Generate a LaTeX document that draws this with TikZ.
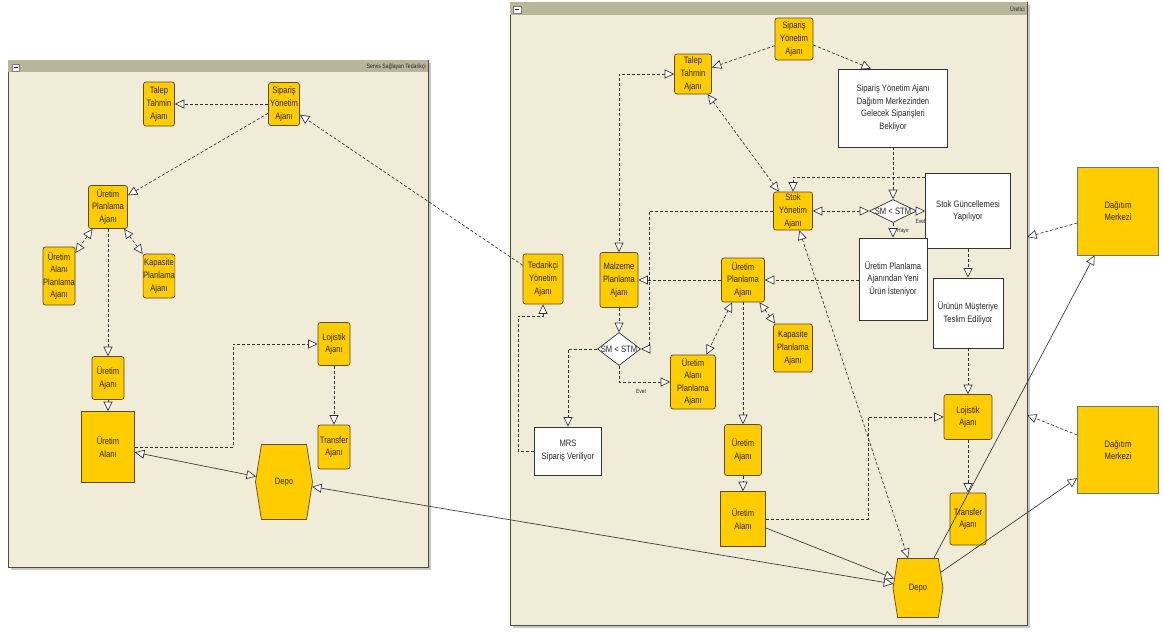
\documentclass[tikz,border=0pt]{standalone}
\usepackage{fontspec}
\setmainfont{Liberation Sans}[FakeStretch=0.82]
\usetikzlibrary{arrows.meta,shapes.geometric,shapes.symbols,calc}

\definecolor{agentfill}{HTML}{FFCC00}
\definecolor{agentline}{HTML}{5E4B1C}
\definecolor{agenttext}{HTML}{2E2508}
\definecolor{panelfill}{HTML}{F0ECD8}
\definecolor{panelbar}{HTML}{B8B59B}
\definecolor{panelline}{HTML}{4A4A4A}
\definecolor{wireline}{HTML}{333333}

\tikzset{
  txt/.style={font=\fontsize{9.3}{12.6}\selectfont},
  agent/.style={txt, draw=agentline, fill=agentfill, rounded corners=2.5pt,
    line width=0.7pt, align=center, text=agenttext, inner sep=0pt},
  area/.style={agent, rounded corners=0pt},
  depot/.style={agent, rounded corners=0pt, shape=signal,
    signal to=west and east, signal pointer angle=162},
  note/.style={txt, draw=wireline, fill=white, line width=0.7pt, align=center,
    text=black!85, inner sep=0pt},
  decision/.style={draw=wireline, fill=white, shape=diamond, inner sep=0pt,
    line width=0.7pt},
  cond/.style={font=\fontsize{9.3}{10}\selectfont, text=black!85},
  lbl/.style={font=\fontsize{6}{6}\selectfont, text=black!85, inner sep=0pt},
  ptitle/.style={font=\fontsize{6.3}{6.5}\selectfont, text=black!85, inner sep=0pt, anchor=east},
  msg/.style={draw=wireline, line width=0.65pt, dash pattern=on 3pt off 2pt},
  flow/.style={draw=wireline, line width=0.65pt},
  minus/.style={draw=gray, fill=white, minimum size=7.5pt, inner sep=0pt,
    path picture={\draw[black, line width=1.3pt]
      ([xshift=-2.2pt]path picture bounding box.center) --
      ([xshift=2.2pt]path picture bounding box.center);}},
}

\begin{document}
\begin{tikzpicture}[x=1pt, y=-1pt,
  >={Triangle[fill=white, length=9.5pt, width=9pt]}]
\useasboundingbox (0,0) rectangle (1163,632);
\fill[white] (0,0) rectangle (1163,632);

% ---------- boundary: Servis Saglayan Tedarikci ----------
\fill[black!22] (10.5,62.5) rectangle (430.5,569.5);
\draw[panelline, fill=panelfill, line width=0.8pt] (8,60) rectangle (428,567);
\fill[panelbar] (8.4,60.4) rectangle (427.6,72);
\node[minus] (lbtn) at (15.8,67.5) {};
\node[ptitle] (ltitle) at (426,66.5) {Servis Sağlayan Tedarikçi};

% ---------- boundary: Uretici ----------
\fill[black!22] (512.5,4.5) rectangle (1029.5,627.5);
\draw[panelline, fill=panelfill, line width=0.8pt] (510,2) rectangle (1027,625);
\fill[panelbar] (510.4,2.4) rectangle (1026.6,15);
\node[minus] (rbtn) at (517,9.5) {};
\node[ptitle] (rtitle) at (1025,9) {Üretici};

% ---------- supplier agents ----------
\node[agent, minimum width=31pt, minimum height=44pt] (lTalep) at (159,104) {Talep\\Tahmin\\Ajanı};
\node[agent, minimum width=31pt, minimum height=43pt] (lSip) at (284,104) {Sipariş\\Yönetim\\Ajanı};
\node[agent, minimum width=39pt, minimum height=43pt] (lUPA) at (108,207) {Üretim\\Planlama\\Ajanı};
\node[agent, minimum width=32pt, minimum height=58pt] (lUAPA) at (59,276) {Üretim\\Alanı\\Planlama\\Ajanı};
\node[agent, minimum width=31pt, minimum height=44pt] (lKap) at (159,276) {Kapasite\\Planlama\\Ajanı};
\node[agent, minimum width=32pt, minimum height=43pt] (lUA) at (108,378) {Üretim\\Ajanı};
\node[area, minimum width=53pt, minimum height=71pt] (lAlan) at (108,447) {Üretim\\Alanı};
\node[agent, minimum width=32pt, minimum height=43pt] (lLoj) at (334,344) {Lojistik\\Ajanı};
\node[agent, minimum width=32pt, minimum height=44pt] (lTr) at (334,447) {Transfer\\Ajanı};
\node[depot, minimum width=57pt, minimum height=75pt] (lDepo) at (284,482) {Depo};

% ---------- producer agents ----------
\node[agent, minimum width=38pt, minimum height=42pt] (rSip) at (794,39) {Sipariş\\Yönetim\\Ajanı};
\node[agent, minimum width=37pt, minimum height=40pt] (rTalep) at (693,74) {Talep\\Tahmin\\Ajanı};
\node[agent, minimum width=39pt, minimum height=38pt] (rStok) at (793,211) {Stok\\Yönetim\\Ajanı};
\node[agent, minimum width=40pt, minimum height=50pt] (rTed) at (543,279) {Tedarikçi\\Yönetim\\Ajanı};
\node[agent, minimum width=38pt, minimum height=55pt] (rMalz) at (619,280) {Malzeme\\Planlama\\Ajanı};
\node[agent, minimum width=43pt, minimum height=44pt] (rUPA) at (743,280) {Üretim\\Planlama\\Ajanı};
\node[agent, minimum width=45pt, minimum height=54pt] (rUAPA) at (693,382) {Üretim\\Alanı\\Planlama\\Ajanı};
\node[agent, minimum width=39pt, minimum height=48pt] (rKap) at (793,348) {Kapasite\\Planlama\\Ajanı};
\node[agent, minimum width=37pt, minimum height=51pt] (rUA) at (743,450) {Üretim\\Ajanı};
\node[area, minimum width=45pt, minimum height=55pt] (rAlan) at (743,519) {Üretim\\Alanı};
\node[agent, minimum width=48pt, minimum height=45pt] (rLoj) at (968,417) {Lojistik\\Ajanı};
\node[agent, minimum width=36pt, minimum height=52pt] (rTr) at (968,519) {Transfer\\Ajanı};
\node[depot, minimum width=50pt, minimum height=59pt] (rDepo) at (918,588) {Depo};

% ---------- decisions and activity notes ----------
\node[decision, minimum width=47pt, minimum height=23pt,
      label={[cond]center:SM < STM}] (rD1) at (893,211) {};
\node[decision, minimum width=43pt, minimum height=33pt,
      label={[cond]center:SM < STM}] (rD2) at (619,349) {};
\node[lbl, anchor=west] (evet1) at (915.5,221) {Evet};
\node[lbl, anchor=west] (hayir) at (897,231) {Hayır};
\node[lbl] (evet2) at (641,391) {Evet};

\node[note, minimum width=109pt, minimum height=78pt] (wBek) at (893,108)
  {Sipariş Yönetim Ajanı\\Dağıtım Merkezinden\\Gelecek Siparişleri\\Bekliyor};
\node[note, minimum width=85pt, minimum height=75pt] (wStokG) at (968,211)
  {Stok Güncellemesi\\Yapılıyor};
\node[note, minimum width=68pt, minimum height=82pt] (wYeni) at (893,279)
  {Üretim Planlama\\Ajanından Yeni\\Ürün İsteniyor};
\node[note, minimum width=70pt, minimum height=70pt] (wTeslim) at (968,313)
  {Ürünün Müşteriye\\Teslim Ediliyor};
\node[note, minimum width=67pt, minimum height=48pt] (wMRS) at (568,451)
  {MRS\\Sipariş Veriliyor};

% ---------- distribution centres ----------
\node[area, draw=black!55, minimum width=81pt, minimum height=88pt] (dm1) at (1118,211) {Dağıtım\\Merkezi};
\node[area, draw=black!55, minimum width=81pt, minimum height=87pt] (dm2) at (1118,450) {Dağıtım\\Merkezi};
\coordinate (dmIn1) at (1027,237);
\coordinate (dmIn2) at (1027,415);

% ---------- supplier messages ----------
\draw[msg, ->] (lSip.west) -- (lTalep.east);
\draw[msg, ->] (lSip) -- (lUPA);
\draw[msg, <->] (lUPA) -- (lUAPA);
\draw[msg, <->] (lUPA) -- (lKap);
\draw[msg, ->] (lUPA.south) -- (lUA.north);
\draw[msg, ->] (lUA.south) -- (lAlan.north);
\draw[msg, ->] (lAlan.east) -- (233,447) |- (lLoj.west);
\draw[msg, ->] (lLoj.south) -- (lTr.north);
\draw[flow, <->] (lAlan) -- (lDepo);
\draw[msg, ->] (rTed) -- (lSip);
\draw[flow, <->] (lDepo) -- (rDepo);

% ---------- producer messages ----------
\draw[msg, ->] (rSip) -- (rTalep);
\draw[msg, ->] ([yshift=-6pt]rSip.east) -- ($(wBek.north west)!0.3!(wBek.north east)$);
\draw[msg, ->] (wBek.south) -- (rD1.north);
\draw[msg, <->] (rD1.west) -- (rStok.east);
\draw[msg, ->] (rD1.east) -- (wStokG.west);
\draw[msg, ->] (rD1.south) -- (wYeni.north);
\draw[msg, ->] ([yshift=-4pt]wStokG.north west) -| (rStok.north);
\draw[msg, ->] (wStokG.south) -- (wStokG.south |- wTeslim.north);
\draw[msg, ->] (wTeslim.south) -- (rLoj.north);
\draw[msg, ->] (rUPA.east -| wYeni.west) -- (rUPA.east);
\draw[msg, <->] (rTalep) -- (rStok);
\draw[msg, <->] (rStok) -- (rDepo);
\draw[msg, ->] (rStok.west) -- (649,211) -- (649,349) -- (rD2.east);
\draw[msg, <->] (rTalep.west) -| (rMalz.north);
\draw[msg, ->] (rUPA.west) -- (rMalz.east);
\draw[msg, ->] (rMalz.south) -- (rD2.north);
\draw[msg, ->] (rD2.south) |- (rUAPA.west);
\draw[msg, ->] (rD2.west) -| (wMRS.north);
\draw[msg, ->] (wMRS.west) -| (518,316) -| (rTed.south);
\draw[msg, <->] (rUPA) -- (rUAPA);
\draw[msg, <->] (rUPA) -- (rKap);
\draw[msg, ->] (rUPA.south) -- (rUA.north);
\draw[msg, ->] (rUA.south) -- (rAlan.north);
\draw[msg, ->] (rAlan.east) -- (868,519) |- (rLoj.west);
\draw[flow, ->] (rAlan) -- (rDepo);
\draw[msg, ->] (rLoj.south) -- (rTr.north);
\draw[flow, ->] (rDepo) -- (dm1);
\draw[flow, ->] (rDepo) -- (dm2);
\draw[msg, ->] ([yshift=-12pt]dm1.west) -- (dmIn1);
\draw[msg, ->] ([yshift=15pt]dm2.west) -- (dmIn2);
\end{tikzpicture}
\end{document}
